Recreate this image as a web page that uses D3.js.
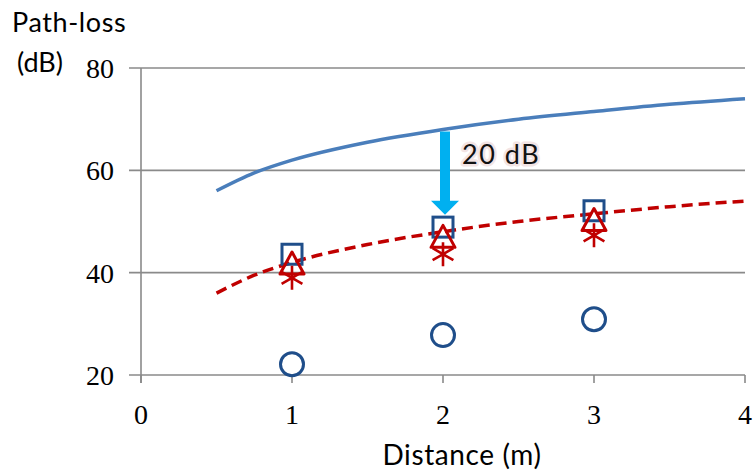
<!DOCTYPE html>
<html>
<head>
<meta charset="utf-8">
<script src="https://cdn.jsdelivr.net/npm/d3@7"></script>
<style>
  body { margin: 0; background: #fff; }
  svg { display: block; }
</style>
</head>
<body>
<script>
var w = 754,
    h = 471;

// distances for the two fitted curves
var curveDist = [0.5, 0.75, 1, 1.5, 2, 2.5, 3, 3.5, 4];
var freeSpaceLoss = [56, 59.5, 62, 65.5, 68, 70, 71.5, 72.9, 74];
var fittedLoss = [36, 39.5, 42, 45.5, 48, 50, 51.5, 52.9, 54];

// measured points
var pointDist = [1, 2, 3];
var squareLoss = [43.6, 48.9, 52.1];
var triangleLoss = [41.7, 46.9, 50.2];
var starLoss = [39.0, 43.6, 47.3];
var circleLoss = [22.1, 27.8, 30.9];

var xTicks = [0, 1, 2, 3, 4];
var yTicks = [20, 40, 60, 80];

var arrowDist = 2;
var arrowFrom = 67.6,
    arrowTo = 51.3;

var svg = d3.select('body')
            .append('svg')
            .attr('width', w)
            .attr('height', h);

var x = d3.scaleLinear().domain([0, 4]).range([141, 745]);
var y = d3.scaleLinear().domain([20, 80]).range([375, 68]);

var gridColor = '#8a8a8a';

// horizontal gridlines (the 20 line doubles as the x axis)
svg.selectAll('.grid')
   .data(yTicks)
   .enter()
   .append('line')
   .attr('x1', x(0) - 12)
   .attr('x2', x(4))
   .attr('y1', function(d) { return y(d); })
   .attr('y2', function(d) { return y(d); })
   .style('stroke', gridColor)
   .style('stroke-width', 1.6);

// y axis line
svg.append('line')
   .attr('x1', x(0)).attr('x2', x(0))
   .attr('y1', y(80)).attr('y2', y(20) + 8)
   .style('stroke', gridColor)
   .style('stroke-width', 1.6);

// x ticks
svg.selectAll('.xtick')
   .data(xTicks)
   .enter()
   .append('line')
   .attr('x1', function(d) { return x(d); })
   .attr('x2', function(d) { return x(d); })
   .attr('y1', y(20))
   .attr('y2', y(20) + 8)
   .style('stroke', gridColor)
   .style('stroke-width', 1.6);

// tick labels
svg.selectAll('.xlab')
   .data(xTicks)
   .enter()
   .append('text')
   .attr('x', function(d) { return x(d); })
   .attr('y', 424)
   .attr('text-anchor', 'middle')
   .style('font-family', '"Liberation Serif", "Times New Roman", serif')
   .style('font-size', '28px')
   .text(function(d) { return d; });

svg.selectAll('.ylab')
   .data(yTicks)
   .enter()
   .append('text')
   .attr('x', 114)
   .attr('y', function(d) { return y(d) + 10; })
   .attr('text-anchor', 'end')
   .style('font-family', '"Liberation Serif", "Times New Roman", serif')
   .style('font-size', '28px')
   .text(function(d) { return d; });

// axis titles
var sans = 'Lato, "Open Sans", sans-serif';
svg.append('text')
   .attr('x', 12).attr('y', 32)
   .style('font-family', sans)
   .style('font-size', '27px')
   .style('letter-spacing', '0.6px')
   .text('Path-loss');
svg.append('text')
   .attr('x', 17).attr('y', 72)
   .style('font-family', sans)
   .style('font-size', '27px')
   .text('(dB)');
svg.append('text')
   .attr('x', 462).attr('y', 465)
   .attr('text-anchor', 'middle')
   .style('font-family', sans)
   .style('font-size', '28px')
   .style('letter-spacing', '0.6px')
   .text('Distance (m)');

// curves
var line = d3.line()
             .x(function(d) { return x(d[0]); })
             .y(function(d) { return y(d[1]); })
             .curve(d3.curveMonotoneX);

svg.append('path')
   .attr('d', line(d3.zip(curveDist, freeSpaceLoss)))
   .style('fill', 'none')
   .style('stroke', '#4a7ebb')
   .style('stroke-width', 3.5);

svg.append('path')
   .attr('d', line(d3.zip(curveDist, fittedLoss)))
   .style('fill', 'none')
   .style('stroke', '#c00000')
   .style('stroke-width', 3.5)
   .style('stroke-dasharray', '11,6');

var darkBlue = '#1f4e8a',
    red = '#c00000';

// squares
svg.selectAll('.sq')
   .data(d3.zip(pointDist, squareLoss))
   .enter()
   .append('rect')
   .attr('x', function(d) { return x(d[0]) - 10; })
   .attr('y', function(d) { return y(d[1]) - 10; })
   .attr('width', 20)
   .attr('height', 20)
   .style('fill', 'none')
   .style('stroke', darkBlue)
   .style('stroke-width', 3);

// triangles
svg.selectAll('.tri')
   .data(d3.zip(pointDist, triangleLoss))
   .enter()
   .append('path')
   .attr('d', function(d) {
      var cx = x(d[0]), cy = y(d[1]);
      return 'M' + cx + ',' + (cy - 12) + 'L' + (cx + 12) + ',' + (cy + 10) +
             'L' + (cx - 12) + ',' + (cy + 10) + 'Z';
    })
   .style('fill', 'none')
   .style('stroke', red)
   .style('stroke-width', 3)
   .style('stroke-linejoin', 'round');

// asterisks
svg.selectAll('.star')
   .data(d3.zip(pointDist, starLoss))
   .enter()
   .append('path')
   .attr('d', function(d) {
      var cx = x(d[0]), cy = y(d[1]), r = 12;
      var dx = r * Math.cos(Math.PI / 6), dy = r * Math.sin(Math.PI / 6);
      return 'M' + cx + ',' + (cy - r) + 'L' + cx + ',' + (cy + r) +
             'M' + (cx - dx) + ',' + (cy - dy) + 'L' + (cx + dx) + ',' + (cy + dy) +
             'M' + (cx + dx) + ',' + (cy - dy) + 'L' + (cx - dx) + ',' + (cy + dy);
    })
   .style('fill', 'none')
   .style('stroke', red)
   .style('stroke-width', 2.6);

// circles
svg.selectAll('.circ')
   .data(d3.zip(pointDist, circleLoss))
   .enter()
   .append('circle')
   .attr('cx', function(d) { return x(d[0]); })
   .attr('cy', function(d) { return y(d[1]); })
   .attr('r', 11.5)
   .style('fill', 'none')
   .style('stroke', darkBlue)
   .style('stroke-width', 3);

// 20 dB arrow
var ax = x(arrowDist) + 2,
    ay0 = y(arrowFrom),
    ay1 = y(arrowTo),
    headLen = 14;
svg.append('path')
   .attr('d', 'M' + (ax - 5) + ',' + ay0 + 'L' + (ax + 5) + ',' + ay0 +
              'L' + (ax + 5) + ',' + (ay1 - headLen) + 'L' + (ax + 14) + ',' + (ay1 - headLen) +
              'L' + ax + ',' + ay1 + 'L' + (ax - 14) + ',' + (ay1 - headLen) +
              'L' + (ax - 5) + ',' + (ay1 - headLen) + 'Z')
   .style('fill', '#00b0f0');

svg.append('text')
   .attr('x', 462).attr('y', 164)
   .style('font-family', sans)
   .style('font-size', '27px')
   .style('letter-spacing', '1.5px')
   .style('paint-order', 'stroke')
   .style('stroke', '#f3e4e4')
   .style('stroke-width', 5)
   .style('stroke-linejoin', 'round')
   .style('fill', '#111')
   .text('20 dB');
</script>
</body>
</html>
